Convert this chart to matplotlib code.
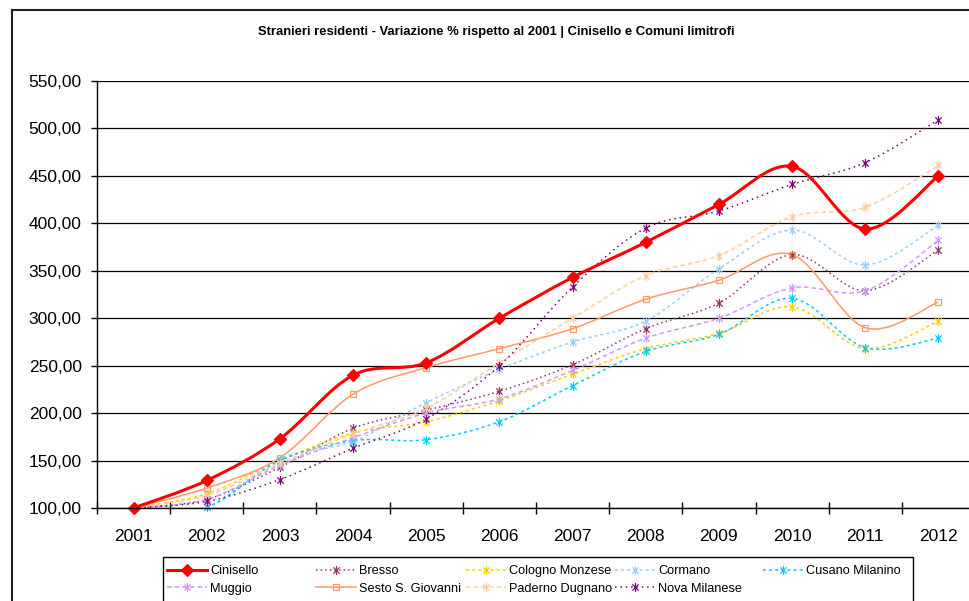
"""Stranieri residenti - variazione % rispetto al 2001, Cinisello e comuni limitrofi."""

import numpy as np
import matplotlib
matplotlib.use("Agg")
import matplotlib.pyplot as plt
from matplotlib.path import Path
from matplotlib.patches import PathPatch, Rectangle
from matplotlib.lines import Line2D

plt.rcParams["font.family"] = ["Liberation Sans", "DejaVu Sans"]

years = ["2001", "2002", "2003", "2004", "2005", "2006",
         "2007", "2008", "2009", "2010", "2011", "2012"]

cinisello = [100, 129, 173, 240, 253, 300, 343, 380, 420, 460, 394, 450]
bresso    = [100, 109, 143, 184, 203, 223, 251, 289, 316, 367, 329, 372]
cologno   = [100, 115, 150, 179, 191, 213, 241, 268, 284, 312, 268, 297]
cormano   = [100, 101, 152, 170, 211, 246, 275, 297, 352, 393, 356, 398]
cusano    = [100, 101, 150, 171, 172, 191, 229, 265, 283, 321, 269, 279]
muggio    = [100, 109, 145, 174, 200, 215, 245, 279, 300, 332, 329, 382]
sesto     = [100, 121, 153, 220, 248, 268, 289, 320, 340, 367, 290, 317]
paderno   = [100, 113, 147, 178, 205, 253, 300, 345, 366, 407, 417, 461]
nova      = [100, 107, 130, 163, 194, 250, 333, 395, 413, 441, 464, 509]

TITLE = ("Stranieri residenti - Variazione % rispetto al 2001 | "
         "Cinisello e Comuni limitrofi")

# Excel style asterisk marker (x plus vertical bar)
STAR = Path([(0, -1), (0, 1), (-0.7, -0.7), (0.7, 0.7), (-0.7, 0.7), (0.7, -0.7)],
            [Path.MOVETO, Path.LINETO] * 3)

# name, values, color, linewidth, linestyle, marker, markersize
series = [
    ("Bresso", bresso, "#993366", 1.1, (0, (1, 2)), STAR, 6.5),
    ("Cologno Monzese", cologno, "#FFCC00", 1.1, (0, (2, 2)), STAR, 6.5),
    ("Cormano", cormano, "#99CCFF", 1.1, (0, (2, 2)), STAR, 6.5),
    ("Cusano Milanino", cusano, "#00CCFF", 1.1, (0, (2, 2)), STAR, 6.5),
    ("Muggio", muggio, "#CC99FF", 1.1, (0, (3, 2)), STAR, 6.5),
    ("Sesto S. Giovanni", sesto, "#FF9966", 1.1, "-", "s", 5),
    ("Paderno Dugnano", paderno, "#FFCC99", 1.1, (0, (3, 2)), STAR, 6.5),
    ("Nova Milanese", nova, "#800080", 1.1, (0, (1, 2.5)), STAR, 6.5),
    ("Cinisello", cinisello, "#FF0000", 2.2, "-", "D", 6),
]


def smooth_path(xs, ys):
    """Bezier path through the points, like Excel's smoothed line."""
    p = np.column_stack([xs, ys]).astype(float)
    n = len(p)
    verts = [p[0]]
    codes = [Path.MOVETO]
    for i in range(n - 1):
        p0 = p[max(i - 1, 0)]
        p3 = p[min(i + 2, n - 1)]
        c1 = p[i] + (p[i + 1] - p0) / 6.0
        c2 = p[i + 1] - (p3 - p[i]) / 6.0
        verts += [c1, c2, p[i + 1]]
        codes += [Path.CURVE4] * 3
    return Path(verts, codes)


W, H = 970, 601
fig = plt.figure(figsize=(W / 100, H / 100), dpi=100)
ax = fig.add_axes([97 / W, 1 - 508 / H, 878 / W, (508 - 81) / H])

x = np.arange(len(years))
handles = {}
for name, vals, col, lw, ls, mk, ms in series:
    z = 5 if name == "Cinisello" else 3
    ax.add_patch(PathPatch(smooth_path(x, vals), fill=False, edgecolor=col,
                           lw=lw, linestyle=ls, zorder=z, capstyle="butt"))
    mfc = col if mk == "D" else "none"
    ax.plot(x, vals, linestyle="none", marker=mk, ms=ms, mec=col, mfc=mfc,
            mew=0.9, zorder=z + 0.5, clip_on=False)
    handles[name] = Line2D([], [], color=col, lw=lw, linestyle=ls, marker=mk,
                           ms=ms, mec=col, mfc=mfc, mew=0.9)

ax.set_xlim(-0.5, len(years) - 0.5)
ax.set_ylim(100, 550)
ax.set_yticks(np.arange(100, 551, 50))
ax.set_yticklabels([f"{v:.2f}".replace(".", ",") for v in np.arange(100, 551, 50)])
ax.set_xticks(x)
ax.set_xticklabels(years)
ax.set_xticks(np.arange(-0.5, len(years), 1), minor=True)
ax.tick_params(axis="x", which="major", length=0, pad=15, labelsize=12.5)
ax.tick_params(axis="x", which="minor", direction="inout", length=9, width=1)
ax.tick_params(axis="y", direction="out", length=4, width=1, pad=7, labelsize=12.5)

ax.grid(axis="y", color="black", lw=0.9)
ax.set_axisbelow(True)
for s in ("top", "right"):
    ax.spines[s].set_visible(False)
for s in ("left", "bottom"):
    ax.spines[s].set_linewidth(1.0)
    ax.spines[s].set_zorder(6)

fig.text(496 / W, 1 - 32 / H, TITLE, ha="center", va="center", fontsize=9.4,
         fontweight="bold", family=["Liberation Sans Narrow", "Liberation Sans"])

# outer chart border (cropped at right and bottom)
fig.add_artist(Line2D([12 / W, 12 / W], [0, 1 - 10 / H], color="#222222",
                      lw=1.5, transform=fig.transFigure))
fig.add_artist(Line2D([12 / W, 1], [1 - 10 / H, 1 - 10 / H], color="#222222",
                      lw=1.5, transform=fig.transFigure))

# legend box with equal width columns
fig.add_artist(Rectangle((163 / W, -0.05), (913 - 163) / W, 0.05 + (H - 557) / H,
                         fill=False, edgecolor="black", lw=1.0,
                         transform=fig.transFigure))
columns = [["Cinisello", "Muggio"], ["Bresso", "Sesto S. Giovanni"],
           ["Cologno Monzese", "Paderno Dugnano"], ["Cormano", "Nova Milanese"],
           ["Cusano Milanino"]]
col_x = [167, 316, 466, 615, 763]
for names, cx in zip(columns, col_x):
    fig.legend([handles[n] for n in names], names, loc="upper left",
               bbox_to_anchor=(cx / W, 1 - 565 / H), frameon=False,
               fontsize=9.2, handlelength=3.1, handletextpad=0.3,
               labelspacing=0.45, borderpad=0, borderaxespad=0)

fig.savefig("out.png", dpi=100)
